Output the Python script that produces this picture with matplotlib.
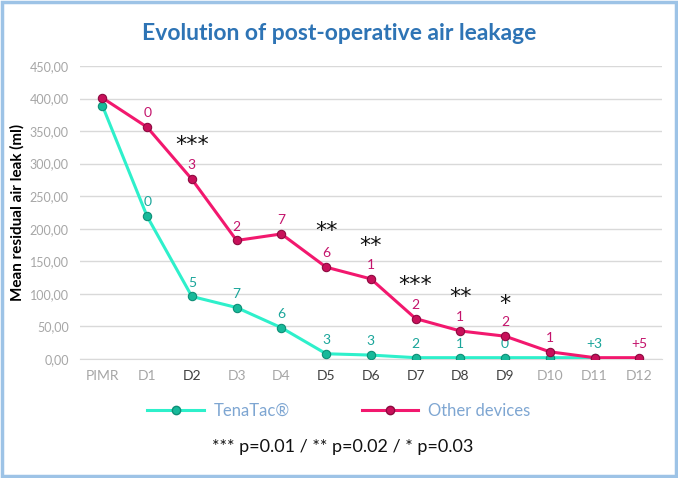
import matplotlib.pyplot as plt
from matplotlib.patches import Rectangle
from matplotlib.lines import Line2D

plt.rcParams['font.family'] = ['Lato', 'DejaVu Sans']

# data
days = ["PIMR", "D1", "D2", "D3", "D4", "D5", "D6", "D7", "D8", "D9", "D10", "D11", "D12"]
bold_days = ["D2", "D5", "D6", "D7", "D8", "D9"]
tenatac = [389, 219, 96, 79, 48, 8, 6, 2, 2, 2, 2, 2]
others = [401, 356, 276, 182, 192, 141, 123, 62, 43, 35, 11, 2, 2]
tenatac_labels = ["", "0", "5", "7", "6", "3", "3", "2", "1", "0", "", "+3"]
others_labels = ["", "0", "3", "2", "7", "6", "1", "2", "1", "2", "1", "", "+5"]
# significance stars: (day index, height in ml, text)
stars = [(2, 328, "***"), (5, 196, "**"), (6, 173, "**"), (7, 113, "***"), (8, 95, "**"), (9, 85, "*")]
yticks = [0, 50, 100, 150, 200, 250, 300, 350, 400, 450]

cyan_line = "#2EF0CB"
cyan_mark = "#17B99A"
cyan_text = "#1AA59A"
pink_line = "#F2186E"
pink_mark = "#C8105A"
pink_text = "#C4146C"

fig = plt.figure(figsize=(6.78, 4.78), dpi=100)
ax = fig.add_axes([0.118, 0.249, 0.858, 0.613])

x_t = list(range(len(tenatac)))
x_o = list(range(len(others)))
ax.plot(x_t, tenatac, color=cyan_line, lw=2.2, marker="o", ms=6,
        mfc=cyan_mark, mec="#0E8F77", mew=0.8, zorder=3)
ax.plot(x_o, others, color=pink_line, lw=2.2, marker="o", ms=6,
        mfc=pink_mark, mec="#8E0A40", mew=0.8, zorder=4)

for i, (v, lab) in enumerate(zip(tenatac, tenatac_labels)):
    if lab:
        ax.annotate(lab, (i, v), xytext=(0, 10), textcoords="offset points",
                    ha="center", va="center", fontsize=10, color=cyan_text)
for i, (v, lab) in enumerate(zip(others, others_labels)):
    if lab:
        ax.annotate(lab, (i, v), xytext=(0, 10), textcoords="offset points",
                    ha="center", va="center", fontsize=10, color=pink_text)

for i, v, s in stars:
    ax.text(i, v, s, ha="center", va="center", fontsize=16, color="#111111",
            family="DejaVu Sans")

ax.set_xlim(-0.5, len(days) - 0.5)
ax.set_ylim(0, 450)
ax.set_yticks(yticks)
ax.set_yticklabels([f"{t:.2f}".replace(".", ",") for t in yticks], fontsize=9, color="#A6A6A6")
ax.set_xticks(range(len(days)))
ax.set_xticklabels(days, fontsize=10)
for lab in ax.get_xticklabels():
    lab.set_color("#404040" if lab.get_text() in bold_days else "#A6A6A6")
ax.tick_params(length=0, pad=8)
ax.grid(axis="y", color="#D9D9D9", lw=1)
ax.set_axisbelow(True)
for side in ["top", "right", "left"]:
    ax.spines[side].set_visible(False)
ax.spines["bottom"].set_color("#D9D9D9")
ax.set_ylabel("Mean residual air leak (ml)", fontsize=11, fontweight="bold", color="black")
ax.yaxis.set_label_coords(-0.095, 0.5)

fig.text(0.5, 0.93, "Evolution of post-operative air leakage", ha="center", va="center",
         fontsize=16.5, fontweight="bold", color="#2E74B5")

handles = [
    Line2D([], [], color=cyan_line, lw=2.2, marker="o", ms=6, mfc=cyan_mark, mec="#0E8F77"),
    Line2D([], [], color=pink_line, lw=2.2, marker="o", ms=6, mfc=pink_mark, mec="#8E0A40"),
]
leg = fig.legend(handles, ["TenaTac®", "Other devices"], loc="center", bbox_to_anchor=(0.5, 0.14),
                 ncol=2, frameon=False, fontsize=12, handlelength=3.4, handletextpad=0.6,
                 columnspacing=4.3)
for t in leg.get_texts():
    t.set_color("#7EA6D2")

fig.text(0.505, 0.065, "*** p=0.01 / ** p=0.02 / * p=0.03", ha="center", va="center",
         fontsize=13, color="#111111")

fig.patches.append(Rectangle((0.003, 0.004), 0.994, 0.992, transform=fig.transFigure,
                             fill=False, edgecolor="#9DC3E6", lw=2.5))

fig.savefig("out.png", dpi=100)
